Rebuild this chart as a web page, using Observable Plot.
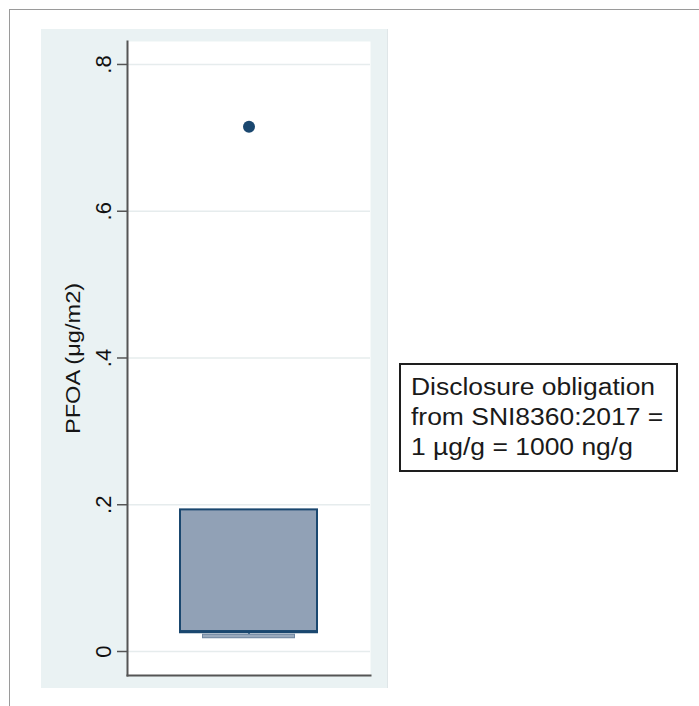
<!DOCTYPE html>
<html>
<head>
<meta charset="utf-8">
<script src="https://cdn.jsdelivr.net/npm/d3@7"></script>
<script src="https://cdn.jsdelivr.net/npm/@observablehq/plot@0.6"></script>
<style>
  html, body { margin: 0; padding: 0; background: #ffffff; }
  #page { position: relative; width: 699px; height: 706px; overflow: hidden; font-family: "Liberation Sans", Arial, Helvetica, sans-serif; }
  #border { position: absolute; left: 9px; top: 9px; right: -4px; bottom: -4px; border: 1.5px solid #9a9a9a; }
  #region { position: absolute; left: 41px; top: 29px; width: 347px; height: 659px; background: #eaf2f3; border-right: 1px solid #dfe6e8; box-sizing: border-box; }
  #chart { position: absolute; left: 0; top: 0; }
  #note { position: absolute; left: 399px; top: 363px; width: 279px; height: 109px; box-sizing: border-box;
          border: 2px solid #1e1e1e; background: #ffffff; padding: 7px 0 0 10px; }
  #note div { font-size: 23px; line-height: 30px; color: #1a1a1a; white-space: nowrap; transform: scaleX(1.15); transform-origin: 0 50%; }
</style>
</head>
<body>
<div id="page">
  <div id="border"></div>
  <div id="region"></div>
  <div id="chart"></div>
  <div id="note"></div>
</div>
<script>
// PFOA distribution (µg/m2): box summary and one outside value
const group = ["PFOA"];
const lowerWhisker = [0.021];
const q1 = [0.027];
const median = [0.027];
const q3 = [0.193];
const upperWhisker = [0.193];
const outliers = [0.715];

// y-axis ticks and text
const yTicks = [0, 0.2, 0.4, 0.6, 0.8];
const yLabel = "PFOA (μg/m2)";
const noteLines = ["Disclosure obligation", "from SNI8360:2017 =", "1 µg/g = 1000 ng/g"];

const box = group.map((g, i) => ({
  group: g, lo: lowerWhisker[i], q1: q1[i], med: median[i], q3: q3[i], hi: upperWhisker[i]
}));
const points = outliers.map(v => ({group: group[0], value: v}));

const navy = "#1a476f";
const boxFill = "#91a1b6";
const fmt = d => d === 0 ? "0" : String(d).replace(/^0/, "");

const chart = Plot.plot({
  width: 699,
  height: 706,
  marginLeft: 127,
  marginRight: 329,
  marginTop: 41,
  marginBottom: 31,
  style: {background: "transparent", fontFamily: "'Liberation Sans', Arial, Helvetica, sans-serif", overflow: "visible"},
  x: {type: "band", domain: group, padding: 0, axis: null},
  y: {domain: [-0.0327, 0.8313], axis: null},
  marks: [
    Plot.frame({fill: "#ffffff", stroke: null}),
    Plot.gridY(yTicks, {stroke: "#e6eced", strokeOpacity: 1, strokeWidth: 1.5}),
    Plot.axisY(yTicks, {tickSize: 10, tickFormat: () => "", stroke: "#555555", strokeWidth: 1.5, label: null}),
    Plot.text(yTicks, {y: d => d, text: fmt, frameAnchor: "left", dx: -17, rotate: -90, textAnchor: "middle", lineAnchor: "bottom", fontSize: 22, fill: "#111111"}),
    Plot.text([yLabel], {frameAnchor: "left", dx: -54, rotate: -90, textAnchor: "middle", fontSize: 20, fill: "#151515"}),
    // whisker stem and cap
    Plot.ruleX(box, {x: "group", y1: "lo", y2: "q1", stroke: navy, strokeWidth: 1.5}),
    Plot.tickY(box, {y: "lo", x: "group", insetLeft: 75, insetRight: 75, stroke: "#6f86a1", strokeWidth: 4.5}),
    Plot.tickY(box, {y: "lo", x: "group", insetLeft: 76, insetRight: 76, stroke: "#9aaabd", strokeWidth: 2.5}),
    Plot.ruleX(box, {x: "group", y1: "q3", y2: "hi", stroke: navy, strokeWidth: 1.5}),
    // interquartile box with median
    Plot.barY(box, {x: "group", y1: "q1", y2: "q3", insetLeft: 53, insetRight: 53, fill: boxFill, stroke: navy, strokeWidth: 2}),
    Plot.tickY(box, {y: "med", x: "group", insetLeft: 52, insetRight: 52, stroke: navy, strokeWidth: 3}),
    // outside values
    Plot.dot(points, {x: "group", y: "value", r: 6, fill: navy, stroke: null}),
    // axis lines
    Plot.frame({anchor: "left", stroke: "#555555", strokeWidth: 2}),
    Plot.frame({anchor: "bottom", stroke: "#555555", strokeWidth: 2})
  ]
});

// widen the rotated axis title along its reading direction
d3.select(chart).selectAll("text")
  .filter(function () { return this.textContent === yLabel; })
  .attr("transform", function () { return this.getAttribute("transform") + " scale(1.18,1)"; });

document.getElementById("chart").appendChild(chart);

const note = document.getElementById("note");
for (const line of noteLines) {
  const el = document.createElement("div");
  el.textContent = line;
  note.appendChild(el);
}
</script>
</body>
</html>
